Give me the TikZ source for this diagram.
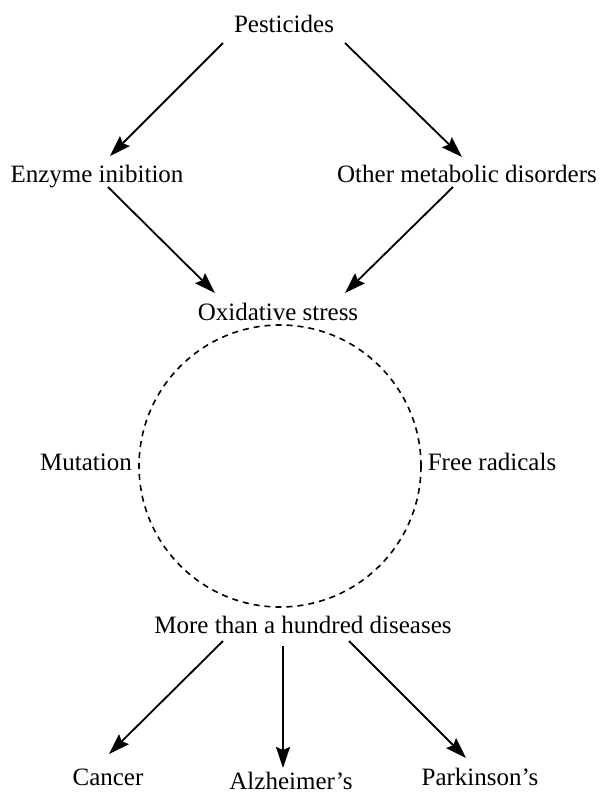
\documentclass[tikz,border=0pt]{standalone}
\usepackage{fontspec}
\setmainfont{Liberation Serif}
\usetikzlibrary{calc,arrows.meta}
\begin{document}
\begin{tikzpicture}[x=1pt,y=-1pt,
  lbl/.style={anchor=base,inner sep=0pt,font=\fontsize{25}{30}\selectfont},
  arr/.style={line width=1.8pt,-{Stealth[length=21pt,width=14pt,inset=3pt]}},
  ring/.style={line width=1.6pt,dash pattern=on 6pt off 5pt}]
\useasboundingbox (0,0) rectangle (602,793);
\node[lbl] (pest) at (284,32) {Pesticides};
\node[lbl] (enz) at (97,182) {Enzyme inibition};
\node[lbl] (oth) at (467,182) {Other metabolic disorders};
\node[lbl] (ox) at (278,320) {Oxidative stress};
\node[lbl] (mut) at (86,470) {Mutation};
\node[lbl] (fr) at (492,470) {Free radicals};
\node[lbl] (dis) at (303,633) {More than a hundred diseases};
\node[lbl] (can) at (108,785) {Cancer};
\node[lbl] (alz) at (291,789) {Alzheimer’s};
\node[lbl] (par) at (480,785) {Parkinson’s};
\node[ring,draw,circle,minimum size=282pt,inner sep=0pt] (cyc) at (280,466) {};
\draw[arr] ($(pest.base)+(-61,11)$) -- ($(enz.base)+(13,-26)$);
\draw[arr] ($(pest.base)+(61,11)$) -- ($(oth.base)+(-5,-25)$);
\draw[arr] ($(enz.base)+(11,5)$) -- ($(ox.base)+(-63,-27)$);
\draw[arr] ($(oth.base)+(-14,5)$) -- ($(ox.base)+(67,-27)$);
\draw[arr] ($(dis.base)+(-80,8)$) -- ($(can.base)+(1,-31)$);
\draw[arr] ($(dis.base)+(-20,13)$) -- ($(alz.base)+(-8,-21)$);
\draw[arr] ($(dis.base)+(46,8)$) -- ($(par.base)+(-14,-27)$);
\end{tikzpicture}
\end{document}
